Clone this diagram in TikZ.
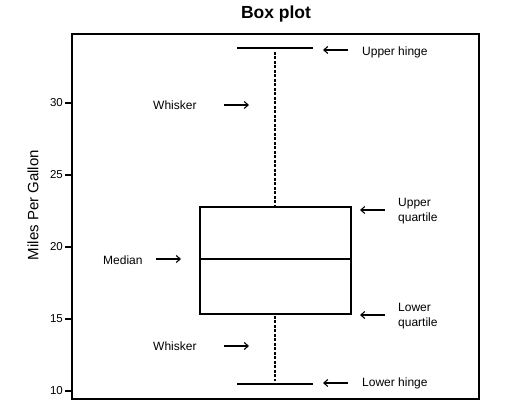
\documentclass[tikz,border=0pt]{standalone}
\usepackage{fontspec}
\setmainfont{Liberation Sans}
\usetikzlibrary{positioning,arrows.meta}

\begin{document}
\begin{tikzpicture}[x=1pt, y=-1pt,
  note/.style={font=\fontsize{12}{15}\selectfont, inner sep=0pt, align=left},
  ticklab/.style={font=\fontsize{11.5}{13}\selectfont, inner sep=0pt, anchor=east},
  pointer/.style={-{Straight Barb[length=4pt,width=7pt]}, line width=1.1pt},
  boxline/.style={line width=1.5pt},
  whisk/.style={line width=1.2pt, dash pattern=on 3pt off 1.5pt}]
\useasboundingbox (0,0) rectangle (506,411);

% title and axis label
\node[font=\bfseries\fontsize{17.5}{20}\selectfont, anchor=base] (title) at (276,18.3) {Box plot};
\node[font=\fontsize{15}{18}\selectfont, rotate=90] (ylab) at (33,205) {Miles Per Gallon};

% frame and ticks
\draw[line width=1.6pt] (72,34) rectangle (479,399);
\foreach \v in {10,15,...,30}{
  \pgfmathsetmacro\ty{391-(\v-10)*14.4}
  \draw[line width=1.2pt] (65,\ty) -- (72,\ty);
  \node[ticklab] (tick\v) at (63,\ty) {\v};
}

% the box plot itself
\coordinate (wtop) at (275,52);
\coordinate (qtop) at (275,206);
\coordinate (qbot) at (275,316);
\coordinate (wbot) at (275,381);
\draw[boxline] (200,207) rectangle (351,314);
\draw[boxline] (200,259) -- (351,259);
\draw[boxline] (237,48) -- (313,48);
\draw[boxline] (237,384) -- (313,384);
\draw[whisk] (wtop) -- (qtop);
\draw[whisk] (qbot) -- (wbot);

% labels
\node[note, anchor=base west] (uhinge) at (362,55.5) {Upper hinge};
\node[note, anchor=base west] (wupper) at (153,110) {Whisker};
\node[note, anchor=base west] (median) at (103,264.5) {Median};
\node[note, anchor=base west] (wlower) at (153,350.5) {Whisker};
\node[note, anchor=west] (uquart) at (398,211) {Upper\\quartile};
\node[note, anchor=west] (lquart) at (398,316) {Lower\\quartile};
\node[note, anchor=base west] (lhinge) at (362,386.7) {Lower hinge};

% arrows
\coordinate (a1s) at (348,50);  \coordinate (a1e) at (323,50);
\coordinate (a2s) at (224,105); \coordinate (a2e) at (249,105);
\coordinate (a3s) at (156,259); \coordinate (a3e) at (181,259);
\coordinate (a4s) at (224,346); \coordinate (a4e) at (249,346);
\coordinate (a5s) at (385,210); \coordinate (a5e) at (360,210);
\coordinate (a6s) at (385,315); \coordinate (a6e) at (360,315);
\coordinate (a7s) at (348,383); \coordinate (a7e) at (323,383);
\foreach \a in {1,...,7}
  \draw[pointer] (a\a s) -- (a\a e);
\end{tikzpicture}
\end{document}
